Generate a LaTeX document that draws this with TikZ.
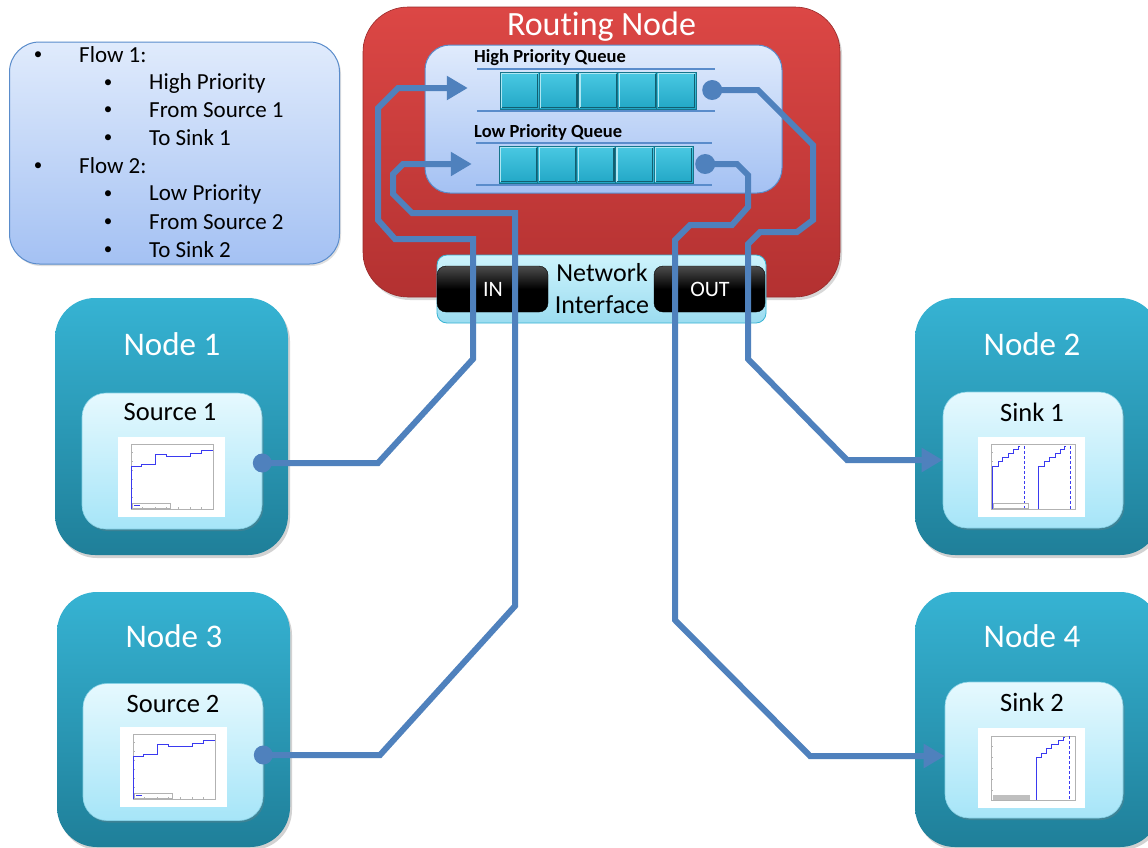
\documentclass[tikz,border=0pt]{standalone}
\usepackage{fontspec}
\setmainfont[Ligatures={NoCommon,NoContextual}]{Carlito}
\usetikzlibrary{arrows.meta,shadows}
\definecolor{flowc}{HTML}{4F81BD}
\definecolor{plotc}{HTML}{3A3AF0}
\definecolor{redtop}{HTML}{DC4745}
\definecolor{redbot}{HTML}{B33131}
\definecolor{tealtop}{HTML}{36B3D3}
\definecolor{tealbot}{HTML}{1F7F99}
\definecolor{ltop}{HTML}{E6F9FE}
\definecolor{lbot}{HTML}{A6E5F8}
\definecolor{btop}{HTML}{E0EBFC}
\definecolor{bbot}{HTML}{A4C1F3}
\definecolor{bedge}{HTML}{5A8CCB}
\definecolor{ctop}{HTML}{4AC9E3}
\definecolor{cbot}{HTML}{22A7C6}
\definecolor{cedge}{HTML}{16758C}
\definecolor{nitop}{HTML}{CDF3FC}
\definecolor{nibot}{HTML}{9BDCF0}
\newcommand{\plotsrc}[2]{%
\begin{scope}[shift={(#1,#2)}]
\fill[white] (0,0) rectangle (107,80);
\draw[gray!60, line width=0.4pt] (13,7) rectangle (95,72);
\foreach \tx in {24,37,48,60,72,83} {\draw[gray!60, line width=0.3pt] (\tx,72) -- (\tx,70);}
\foreach \ty in {15,24,33,42,51,60} {\draw[gray!60, line width=0.3pt] (13,\ty) -- (15,\ty);}
\draw[plotc, line width=0.8pt] (13.5,72) -- (13.5,29) -- (23,29) -- (23,27) -- (37,27) -- (37,17) -- (48,17) -- (48,19) -- (72,19) -- (72,16) -- (83,16) -- (83,13) -- (95,13);
\draw[gray!60, line width=0.3pt] (14,66) rectangle (52,71);
\draw[plotc, line width=0.5pt] (16,68.5) -- (22,68.5);
\end{scope}}
\newcommand{\plotsnka}[2]{%
\begin{scope}[shift={(#1,#2)}]
\fill[white] (0,0) rectangle (107,80);
\draw[gray!60, line width=0.4pt] (13,7) rectangle (97,72);
\foreach \ty in {15,24,33,42,51,60} {\draw[gray!60, line width=0.3pt] (13,\ty) -- (15,\ty);}
\draw[plotc, line width=0.8pt] (14,72) -- (14,29) -- (20,29) -- (20,24) -- (24,24) -- (24,20) -- (30,20) -- (30,16) -- (35,16) -- (35,12) -- (40,12) -- (40,9) -- (42,9);
\draw[plotc, line width=0.8pt, densely dashed] (46,9) -- (46,72);
\draw[plotc, line width=0.8pt] (60,72) -- (60,29) -- (66,29) -- (66,24) -- (71,24) -- (71,20) -- (77,20) -- (77,16) -- (82,16) -- (82,12) -- (86,12) -- (86,9) -- (88,9);
\draw[plotc, line width=0.8pt, densely dashed] (92,9) -- (92,72);
\draw[gray!60, line width=0.3pt] (15,66) rectangle (50,71);
\end{scope}}
\newcommand{\plotsnkb}[2]{%
\begin{scope}[shift={(#1,#2)}]
\fill[white] (0,0) rectangle (107,80);
\draw[gray!60, line width=0.4pt] (13,8) rectangle (97,72);
\foreach \ty in {18,29,40,51,62} {\draw[gray!60, line width=0.3pt] (13,\ty) -- (15,\ty);}
\draw[plotc, line width=0.8pt] (58,72) -- (58,29) -- (63,29) -- (63,25) -- (68,25) -- (68,20) -- (73,20) -- (73,16) -- (80,16) -- (80,12) -- (85,12) -- (85,9) -- (87,9);
\draw[plotc, line width=0.8pt, densely dashed] (91,8) -- (91,72);
\fill[gray!50] (15,67) rectangle (52,72);
\end{scope}}
\newcommand{\qcellat}[4]{% x0 y0 x1 y1
\path[qcell] (#1,#2) rectangle (#3,#4);
\draw[white!55!ctop, line width=1.2pt] (#1+1.5,#4-1.5) -- (#1+1.5,#2+1.5) -- (#3-1.5,#2+1.5);
\draw[cedge!80!black, line width=1.2pt] (#1+1.5,#4-1.5) -- (#3-1.5,#4-1.5) -- (#3-1.5,#2+1.5);
}
\begin{document}
\begin{tikzpicture}[x=1pt,y=-1pt,
  outerbox/.style={top color=tealtop, bottom color=tealbot, rounded corners=40pt, draw=none,
     drop shadow={opacity=0.35,shadow xshift=2pt,shadow yshift=-3pt}},
  innerbox/.style={top color=ltop, bottom color=lbot, rounded corners=24pt, draw=tealtop!60,
     line width=0.6pt, drop shadow={opacity=0.3,shadow xshift=1.5pt,shadow yshift=-2pt}},
  ttl/.style={font=\fontsize{33}{36}\selectfont, text=white, inner sep=0pt},
  sub/.style={font=\fontsize{26.5}{30}\selectfont, text=black, inner sep=0pt},
  leg/.style={font=\fontsize{23}{26}\selectfont, text=black, inner sep=0pt, anchor=west},
  bul/.style={font=\fontsize{17}{20}\selectfont, text=black, inner sep=0pt},
  qlbl/.style={font=\bfseries\fontsize{18.5}{21}\selectfont, text=black, inner sep=0pt, anchor=west},
  flow/.style={draw=flowc, line width=6pt, line join=miter},
  flowarrow/.style={flow, -{Triangle[length=21pt,width=23pt]}},
  qcell/.style={top color=ctop, bottom color=cbot, draw=cedge, line width=0.8pt},
  qline/.style={draw=bedge, line width=2.2pt},
  blackbox/.style={top color=black!70, bottom color=black, middle color=black, rounded corners=9pt,
     draw=black, inner sep=0pt},
]
\useasboundingbox (0,0) rectangle (1148,847);
\fill[white] (0,0) rectangle (1148,847);
\begin{scope}
\clip (0,0) rectangle (1148,847);

% legend
\node[top color=btop, bottom color=bbot, draw=bedge, line width=1pt, rounded corners=30pt,
  minimum width=330pt, minimum height=222pt, drop shadow={opacity=0.25,shadow xshift=1.5pt,shadow yshift=-2pt}] (legend) at (174.5,153) {};
\node[bul] (b1) at (38,56) {•};
\node[leg] (l1) at (79,55) {Flow 1:};
\node[bul] (b2) at (108,84) {•};
\node[leg] (l2) at (149,83) {High Priority};
\node[bul] (b3) at (108,111) {•};
\node[leg] (l3) at (149,110) {From Source 1};
\node[bul] (b4) at (108,139) {•};
\node[leg] (l4) at (149,138) {To Sink 1};
\node[bul] (b5) at (38,167) {•};
\node[leg] (l5) at (79,166) {Flow 2:};
\node[bul] (b6) at (108,195) {•};
\node[leg] (l6) at (149,194) {Low Priority};
\node[bul] (b7) at (108,223) {•};
\node[leg] (l7) at (149,222) {From Source 2};
\node[bul] (b8) at (108,251) {•};
\node[leg] (l8) at (149,250) {To Sink 2};

% routing node
\node[top color=redtop, bottom color=redbot, draw=redbot!85!black, line width=0.6pt, rounded corners=45pt,
  minimum width=477pt, minimum height=290pt, drop shadow={opacity=0.3,shadow xshift=2pt,shadow yshift=-3pt}] (router) at (601.5,152) {};
\node[ttl, font=\fontsize{34}{38}\selectfont] (routertitle) at (601.5,27) {Routing Node};
\node[top color=btop, bottom color=bbot, draw=bedge, line width=1pt, rounded corners=25pt,
  minimum width=357pt, minimum height=148pt] (qbox) at (603.5,119) {};
\node[qlbl] (hqlbl) at (474,58) {High Priority Queue};
\node[qlbl] (lqlbl) at (474,132) {Low Priority Queue};

% queues
\node[minimum width=238pt, minimum height=42pt, inner sep=0pt] (hq) at (596,90) {};
\draw[qline] (hq.north west) -- (hq.north east);
\draw[qline] (hq.south west) -- (hq.south east);
\foreach \i in {0,...,4} {\pgfmathsetmacro\xa{500+39.2*\i}\pgfmathsetmacro\xb{500+39.2*(\i+1)}\qcellat{\xa}{72}{\xb}{109}}
\node[minimum width=236pt, minimum height=42pt, inner sep=0pt] (lq) at (594,164) {};
\draw[qline] (lq.north west) -- (lq.north east);
\draw[qline] (lq.south west) -- (lq.south east);
\foreach \i in {0,...,4} {\pgfmathsetmacro\xa{499+38.8*\i}\pgfmathsetmacro\xb{499+38.8*(\i+1)}\qcellat{\xa}{146}{\xb}{183}}

% network interface
\node[top color=nitop, bottom color=nibot, draw=tealtop, line width=0.8pt, rounded corners=10pt,
  minimum width=329pt, minimum height=68pt] (ni) at (601.5,289) {};
\node[blackbox, minimum width=111pt, minimum height=46pt] (in) at (492.5,289) {};
\node[blackbox, minimum width=111pt, minimum height=46pt] (out) at (709.5,289) {};
\node[font=\fontsize{22}{24}\selectfont, text=white, inner sep=0pt] (intxt) at (493,289) {IN};
\node[font=\fontsize{22}{24}\selectfont, text=white, inner sep=0pt] (outtxt) at (710,289) {OUT};
\node[sub, align=center, font=\fontsize{26}{32}\selectfont] (nitxt) at (602,289) {Network\\Interface};

% nodes
\node[outerbox, minimum width=233pt, minimum height=257pt] (node1) at (171.5,426.5) {};
\node[outerbox, minimum width=233pt, minimum height=255pt] (node3) at (173.5,719.5) {};
\node[outerbox, minimum width=245pt, minimum height=257pt] (node2) at (1037.5,426.5) {};
\node[outerbox, minimum width=245pt, minimum height=255pt] (node4) at (1037.5,719.5) {};
\node[ttl] (n1t) at (172,344) {Node 1};
\node[ttl] (n3t) at (174,636) {Node 3};
\node[ttl] (n2t) at (1032,344) {Node 2};
\node[ttl] (n4t) at (1032,636) {Node 4};

\node[innerbox, minimum width=180pt, minimum height=136pt] (src1) at (172,461) {};
\node[innerbox, minimum width=180pt, minimum height=137pt] (src2) at (173,752) {};
\node[innerbox, minimum width=180pt, minimum height=136pt] (snk1) at (1033,460) {};
\node[innerbox, minimum width=178pt, minimum height=136pt] (snk2) at (1034,750) {};
\node[sub] (src1t) at (170,412) {Source 1};
\node[sub] (src2t) at (173,704) {Source 2};
\node[sub] (snk1t) at (1032,412) {Sink 1};
\node[sub] (snk2t) at (1032,702) {Sink 2};

\plotsrc{118}{437}
\plotsrc{120}{727}
\plotsnka{978}{437}
\plotsnkb{978}{728}

% flows
\draw[flowarrow] ([yshift=-2pt]src1.east) -- (378,463) -- (473,359) -- (473,239) -- (395,239) -- (378,220)
   -- (378,108) -- (398,88) -- ([xshift=-9pt,yshift=2pt]hq.west);
\draw[flowarrow] ([yshift=-3pt]src2.east) -- (380,755) -- (515,606) -- (515,213) -- (412,213) -- (393,194)
   -- (393,174) -- (403,164) -- ([xshift=-4pt]lq.west);
\draw[flowarrow] ([xshift=-3pt]hq.east) -- (758,90) -- (813,145) -- (813,220) -- (797,232) -- (760,232)
   -- (748,244) -- (748,359) -- (847,460) -- (snk1.west);
\draw[flowarrow] ([xshift=-7pt]lq.east) -- (737,164) -- (748,175) -- (748,207) -- (732,225) -- (690,225)
   -- (675,240) -- (675,620) -- (810,756) -- ([yshift=-6pt]snk2.west);
\fill[flowc] ([yshift=-2pt]src1.east) circle[radius=9.5pt];
\fill[flowc] ([yshift=-3pt]src2.east) circle[radius=9.5pt];
\fill[flowc] ([xshift=-3pt]hq.east) circle[radius=10pt];
\fill[flowc] ([xshift=-7pt]lq.east) circle[radius=10pt];
\end{scope}
\end{tikzpicture}
\end{document}
